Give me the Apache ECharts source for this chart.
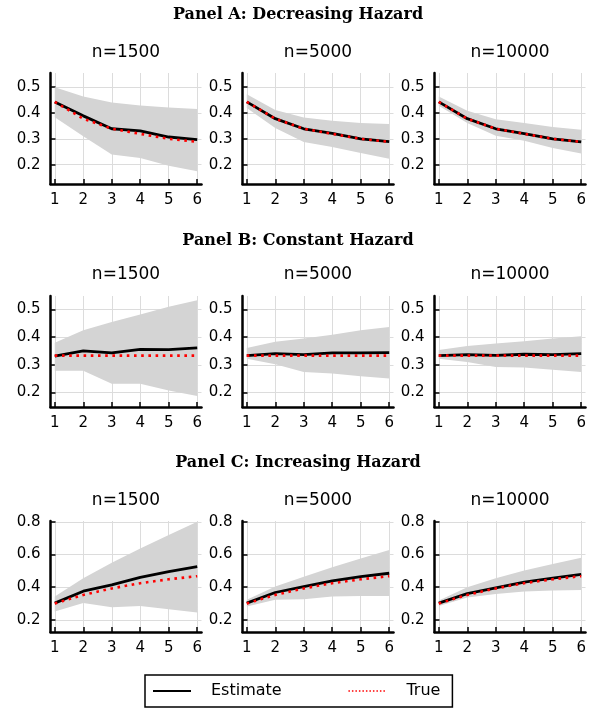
<!DOCTYPE html>
<html><head><meta charset="utf-8">
<script src="https://cdn.jsdelivr.net/npm/echarts@6/dist/echarts.min.js"></script>
<style>html,body{margin:0;padding:0;background:#fff}#c{width:596px;height:709px}</style>
</head><body><div id="c"></div>
<script>
// ---------- data ----------
const periods = [1, 2, 3, 4, 5, 6];
const sampleSizes = ['n=1500', 'n=5000', 'n=10000'];
const panelTitles = ['Panel A: Decreasing Hazard', 'Panel B: Constant Hazard', 'Panel C: Increasing Hazard'];
const xTickValues = [1, 2, 3, 4, 5, 6];
const yTicksAB = [0.2, 0.3, 0.4, 0.5];
const yTicksC = [0.2, 0.4, 0.6, 0.8];

// Panel A: decreasing hazard
const trueA = [0.443, 0.378, 0.339, 0.319, 0.300, 0.288];
const estA1500 = [0.443, 0.389, 0.339, 0.331, 0.307, 0.297];
const loA1500 = [0.384, 0.310, 0.239, 0.226, 0.196, 0.174];
const hiA1500 = [0.500, 0.464, 0.441, 0.429, 0.421, 0.416];
const estA5000 = [0.443, 0.378, 0.339, 0.321, 0.300, 0.289];
const loA5000 = [0.419, 0.342, 0.288, 0.268, 0.245, 0.223];
const hiA5000 = [0.473, 0.412, 0.383, 0.370, 0.361, 0.357];
const estA10000 = [0.443, 0.378, 0.339, 0.320, 0.300, 0.288];
const loA10000 = [0.428, 0.361, 0.312, 0.293, 0.264, 0.243];
const hiA10000 = [0.464, 0.409, 0.376, 0.361, 0.346, 0.335];

// Panel B: constant hazard
const trueB = [0.333, 0.333, 0.333, 0.333, 0.333, 0.333];
const estB1500 = [0.331, 0.350, 0.343, 0.356, 0.355, 0.361];
const loB1500 = [0.278, 0.278, 0.231, 0.231, 0.207, 0.187];
const hiB1500 = [0.380, 0.425, 0.455, 0.482, 0.510, 0.534];
const estB5000 = [0.333, 0.340, 0.337, 0.343, 0.343, 0.344];
const loB5000 = [0.322, 0.302, 0.274, 0.268, 0.258, 0.250];
const hiB5000 = [0.361, 0.383, 0.395, 0.409, 0.425, 0.437];
const estB10000 = [0.333, 0.337, 0.334, 0.338, 0.337, 0.340];
const loB10000 = [0.322, 0.310, 0.292, 0.290, 0.282, 0.274];
const hiB10000 = [0.353, 0.368, 0.377, 0.385, 0.395, 0.403];

// Panel C: increasing hazard
const trueC = [0.300, 0.352, 0.392, 0.424, 0.448, 0.467];
const estC1500 = [0.302, 0.375, 0.414, 0.460, 0.495, 0.525];
const loC1500 = [0.251, 0.302, 0.277, 0.285, 0.265, 0.245];
const hiC1500 = [0.342, 0.454, 0.550, 0.637, 0.719, 0.800];
const estC5000 = [0.302, 0.367, 0.403, 0.438, 0.464, 0.485];
const loC5000 = [0.281, 0.322, 0.326, 0.342, 0.346, 0.346];
const hiC5000 = [0.322, 0.403, 0.464, 0.521, 0.576, 0.627];
const estC10000 = [0.302, 0.360, 0.396, 0.430, 0.455, 0.478];
const loC10000 = [0.285, 0.336, 0.358, 0.373, 0.379, 0.383];
const hiC10000 = [0.318, 0.399, 0.454, 0.501, 0.542, 0.580];

// ---------- assembly ----------
const rows = [
  { truth: trueA, ticks: yTicksAB, ymin: 0.125, ymax: 0.555,
    cells: [[estA1500, loA1500, hiA1500], [estA5000, loA5000, hiA5000], [estA10000, loA10000, hiA10000]] },
  { truth: trueB, ticks: yTicksAB, ymin: 0.147, ymax: 0.549,
    cells: [[estB1500, loB1500, hiB1500], [estB5000, loB5000, hiB5000], [estB10000, loB10000, hiB10000]] },
  { truth: trueC, ticks: yTicksC, ymin: 0.125, ymax: 0.805,
    cells: [[estC1500, loC1500, hiC1500], [estC5000, loC5000, hiC5000], [estC10000, loC10000, hiC10000]] }
];

const gridTops = [73, 296, 521];
const gridH = 111;
const gridLefts = [50.5, 242.5, 434.5];
const gridW = 151;
const panelTitleY = [7, 233, 455];
const subTitleY = [44, 266, 492];

const SANS = 'DejaVu Sans';
const grids = [], xAxes = [], yAxes = [], series = [], titles = [];
const pairs = v => periods.map((p, i) => [p, v[i]]);

function bandRenderer(bandRows) {
  return function (params, api) {
    if (params.dataIndex !== 0) return null;
    const top = bandRows.map(d => api.coord([d[0], d[2]]));
    const bottom = bandRows.map(d => api.coord([d[0], d[1]])).reverse();
    return {
      type: 'polygon',
      shape: { points: top.concat(bottom) },
      style: { fill: '#d4d4d4', stroke: null },
      silent: true
    };
  };
}

rows.forEach((row, r) => {
  titles.push({
    text: panelTitles[r], left: 298, top: panelTitleY[r], textAlign: 'center', padding: 0,
    textStyle: { fontFamily: 'DejaVu Serif', fontWeight: 'bold', fontSize: 16, color: '#000' }
  });
  row.cells.forEach((cell, c) => {
    const k = grids.length;
    const [est, lo, hi] = cell;
    grids.push({ left: gridLefts[c], top: gridTops[r], width: gridW, height: gridH, containLabel: false });
    titles.push({
      text: sampleSizes[c], left: gridLefts[c] + gridW / 2, top: subTitleY[r], textAlign: 'center', padding: 0,
      textStyle: { fontFamily: SANS, fontWeight: 'normal', fontSize: 17, color: '#000' }
    });
    xAxes.push({
      type: 'value', gridIndex: k, min: 0.85, max: 6.15,
      axisLine: { show: true, onZero: false, lineStyle: { color: '#000', width: 2.5 } },
      axisTick: { show: true, inside: true, length: 5, customValues: xTickValues, lineStyle: { color: '#000', width: 1.5 } },
      axisLabel: { customValues: xTickValues, fontFamily: SANS, fontSize: 15, color: '#000', margin: 9 },
      splitLine: { show: true, lineStyle: { color: '#dcdcdc', width: 1 } }
    });
    yAxes.push({
      type: 'value', gridIndex: k, min: row.ymin, max: row.ymax,
      axisLine: { show: true, onZero: false, lineStyle: { color: '#000', width: 2.5 } },
      axisTick: { show: true, inside: true, length: 5, customValues: row.ticks, lineStyle: { color: '#000', width: 1.5 } },
      axisLabel: { customValues: row.ticks, fontFamily: SANS, fontSize: 15, color: '#000', margin: 10,
                   formatter: v => v.toFixed(1) },
      splitLine: { show: true, lineStyle: { color: '#dcdcdc', width: 1 } }
    });
    const bandRows = periods.map((p, i) => [p, lo[i], hi[i]]);
    series.push({
      type: 'custom', xAxisIndex: k, yAxisIndex: k, data: bandRows,
      encode: { x: 0, y: [1, 2] }, renderItem: bandRenderer(bandRows), silent: true, z: 1
    });
    series.push({
      name: 'Estimate', type: 'line', xAxisIndex: k, yAxisIndex: k, data: pairs(est),
      symbol: 'none', lineStyle: { color: '#000', width: 2.8 }, itemStyle: { color: '#000' }, z: 3
    });
    series.push({
      name: 'True', type: 'line', xAxisIndex: k, yAxisIndex: k, data: pairs(row.truth),
      symbol: 'none', lineStyle: { color: '#ff0000', width: 2.6, type: [2.6, 4.6] }, itemStyle: { color: '#ff0000' }, z: 4
    });
  });
});

const chart = echarts.init(document.getElementById('c'), null, { renderer: 'canvas' });
chart.setOption({
  animation: false,
  backgroundColor: '#fff',
  title: titles,
  grid: grids,
  xAxis: xAxes,
  yAxis: yAxes,
  legend: {
    left: 145, top: 675, orient: 'horizontal',
    padding: [8, 12, 8, 7], itemGap: 66, itemWidth: 38, itemHeight: 16,
    borderColor: '#000', borderWidth: 1.5, borderRadius: 0,
    textStyle: { fontFamily: SANS, fontSize: 16, color: '#000', padding: [0, 0, 0, 15] },
    data: [
      { name: 'Estimate', lineStyle: { color: '#000', width: 2 }, itemStyle: { opacity: 0, color: 'rgba(0,0,0,0)', borderWidth: 0 } },
      { name: 'True', lineStyle: { color: '#ff0000', width: 1.5, type: [1.5, 2] }, itemStyle: { opacity: 0, color: 'rgba(0,0,0,0)', borderWidth: 0 } }
    ]
  },
  series: series
});
</script>
</body></html>
